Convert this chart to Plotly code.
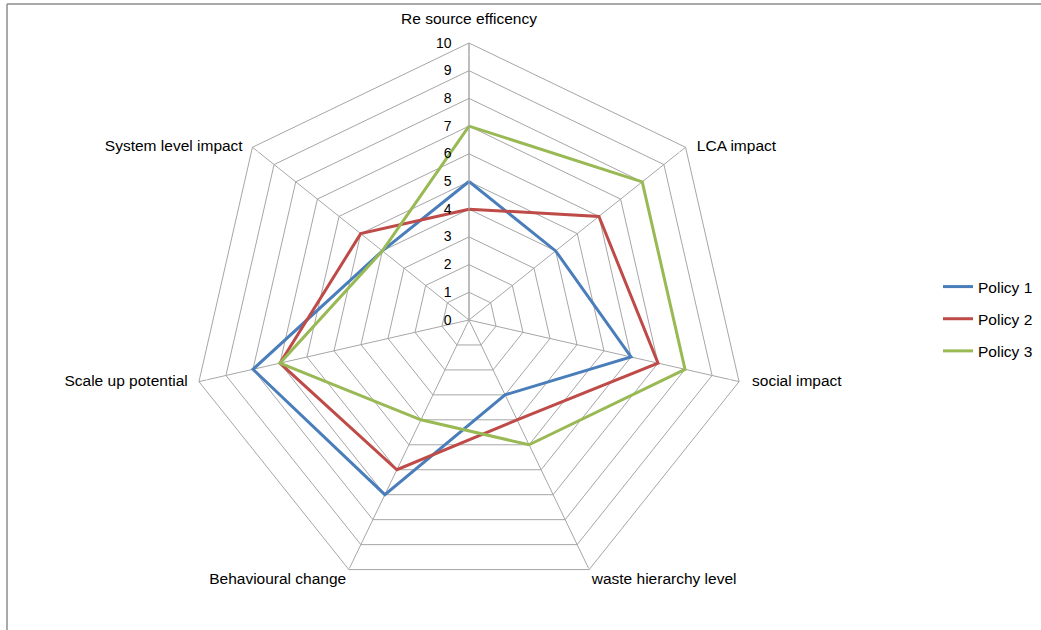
import plotly.graph_objects as go

categories = ["Re source efficency", "LCA impact", "social impact", "waste hierarchy level",
              "Behavioural change", "Scale up potential", "System level impact"]
policy1 = [5, 4, 6, 3, 7, 8, 4]
policy2 = [4, 6, 7, 4, 6, 7, 5]
policy3 = [7, 8, 8, 5, 4, 7, 4]
series_names = ["Policy 1", "Policy 2", "Policy 3"]
series_values = [policy1, policy2, policy3]
radial_ticks = list(range(0, 11))
radial_max = 10

# styles (kept apart from the data)
colors = ["#4A7EBB", "#BE4B48", "#98B954"]
label_positions = ["top center", "middle right", "middle right", "bottom right",
                   "bottom left", "middle left", "middle left"]
label_offsets = [23.4, 16.4, 19.2, 2.5, 2.5, 16.4, 14.0]

W, H = 1041, 630
cx, cy, R = 469, 320, 277
font = "Liberation Sans, Arial, sans-serif"

fig = go.Figure()
for name, vals, col in zip(series_names, series_values, colors):
    fig.add_trace(go.Scatterpolar(
        r=vals + vals[:1], theta=categories + categories[:1],
        mode="lines", name=name, legendgroup=name,
        line=dict(color=col, width=3),
    ))

# category labels just outside the outer ring
fig.add_trace(go.Scatterpolar(
    r=[radial_max] * len(categories), theta=categories,
    mode="markers+text", text=categories,
    textposition=label_positions, cliponaxis=False,
    marker=dict(size=label_offsets, color="rgba(0,0,0,0)"),
    textfont=dict(size=15.5, family=font, color="#000000"),
    showlegend=False, hoverinfo="skip",
))

fig.update_layout(
    width=W, height=H, margin=dict(l=0, r=0, t=0, b=0),
    paper_bgcolor="white", plot_bgcolor="white",
    font=dict(family=font, size=15.5, color="#000000"),
    polar=dict(
        domain=dict(x=[(cx - R) / W, (cx + R) / W], y=[1 - (cy + R) / H, 1 - (cy - R) / H]),
        bgcolor="white",
        gridshape="linear",
        angularaxis=dict(
            rotation=90, direction="clockwise",
            categoryorder="array", categoryarray=categories,
            showline=True, linecolor="#A6A6A6", linewidth=1,
            gridcolor="#A6A6A6", gridwidth=1,
            ticks="", showticklabels=False,
        ),
        radialaxis=dict(
            range=[0, radial_max], tickvals=radial_ticks,
            ticktext=[str(v) for v in radial_ticks],
            angle=90, side="counterclockwise", tickangle=90,
            showticklabels=True,
            tickfont=dict(size=14, family=font, color="#000000"),
            showline=True, linecolor="#A6A6A6", linewidth=1,
            gridcolor="#A6A6A6", gridwidth=1,
            ticks="outside", ticklen=12, tickcolor="rgba(0,0,0,0)",
        ),
    ),
    showlegend=True,
    legend=dict(x=938 / W, y=0.5 - 4 / H, xanchor="left", yanchor="middle",
                font=dict(size=15.5, family=font, color="#000000"),
                traceorder="grouped", tracegroupgap=9,
                bgcolor="rgba(0,0,0,0)"),
    shapes=[
        dict(type="line", xref="paper", yref="paper", x0=7 / W, x1=1.02, y0=1 - 4 / H, y1=1 - 4 / H,
             line=dict(color="#8C8C8C", width=1.5)),
        dict(type="line", xref="paper", yref="paper", x0=7 / W, x1=7 / W, y0=1 - 4 / H, y1=-0.02,
             line=dict(color="#8C8C8C", width=1.5)),
    ],
)

fig.write_html("out.html")
